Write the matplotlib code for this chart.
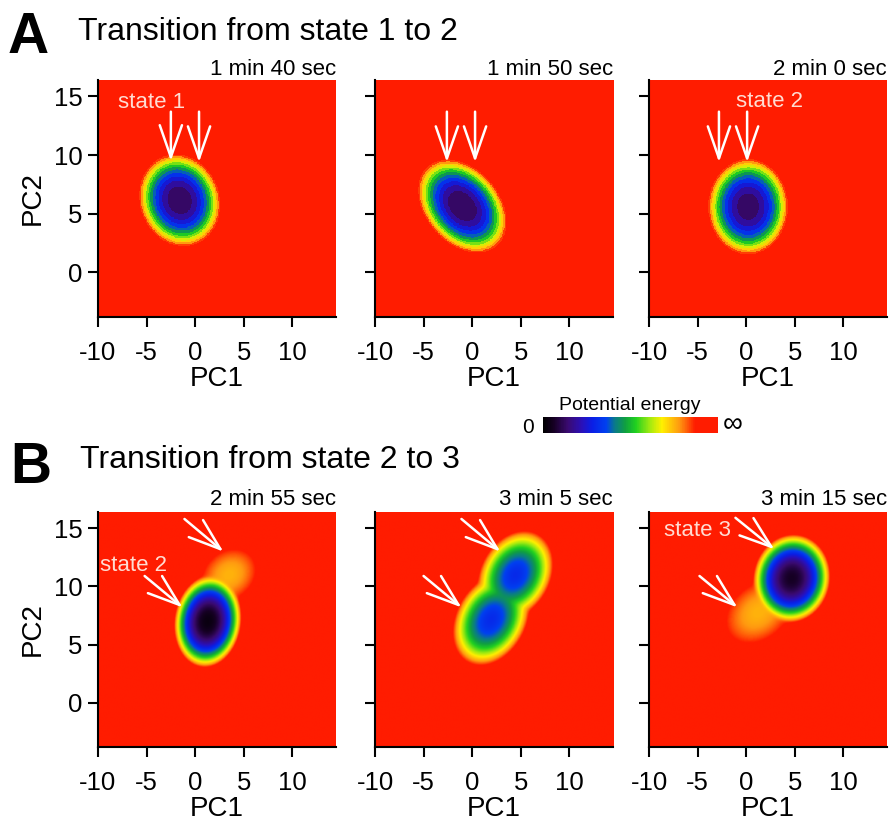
import numpy as np
import matplotlib.pyplot as plt
from matplotlib.colors import LinearSegmentedColormap, Normalize
import matplotlib.cm as cm

plt.rcParams['font.family'] = ['Liberation Sans', 'DejaVu Sans']
plt.rcParams['axes.unicode_minus'] = False

W, H = 891, 832

titles = ["Transition from state 1 to 2", "Transition from state 2 to 3"]
times_a = ["1 min 40 sec", "1 min 50 sec", "2 min 0 sec"]
times_b = ["2 min 55 sec", "3 min 5 sec", "3 min 15 sec"]

xticks = [-10, -5, 0, 5, 10]
yticks = [0, 5, 10, 15]
xlim = (-10, 14.5)
ylim = (-3.8, 16.4)

# wells: (PC1, PC2, semi-axis a, semi-axis b, tilt deg, floor energy, wall exponent)
wells_a = [
    [(-1.6, 6.15, 4.6, 3.95, -70, 0.14, 2.2)],
    [(-1.05, 5.65, 5.2, 3.65, -49, 0.13, 2.2)],
    [(0.2, 5.6, 4.7, 3.95, 90, 0.15, 2.2)],
]
wells_b = [
    [(1.3, 7.0, 4.7, 3.4, 82, 0.03, 2.2), (3.5, 11.0, 2.7, 2.2, 40, 0.75, 2)],
    [(1.9, 7.15, 4.9, 3.5, 62, 0.31, 2), (4.4, 11.0, 4.7, 3.5, 62, 0.31, 2)],
    [(4.7, 10.7, 4.5, 3.9, 80, 0.06, 2.2), (1.3, 7.8, 3.4, 2.5, 40, 0.75, 2)],
]

# arrows: (tail x, tail y, tip x, tip y)
arrows_a = [
    [(-2.5, 13.7, -2.5, 9.5), (0.4, 13.7, 0.4, 9.4)],
    [(-2.6, 13.7, -2.6, 9.4), (0.3, 13.7, 0.3, 9.4)],
    [(-2.8, 13.7, -2.8, 9.4), (0.1, 13.7, 0.1, 9.4)],
]
arrows_b = [
    [(-1.1, 15.8, 2.9, 13.0), (-5.2, 10.9, -1.3, 8.2)],
    [(-1.1, 15.8, 2.9, 13.0), (-5.0, 10.9, -1.1, 8.2)],
    [(-1.1, 15.9, 2.9, 13.2), (-4.8, 10.9, -0.9, 8.2)],
]

# state labels: (panel, x, y, text)
labels_a = [(0, -4.5, 14.0, "state 1"), (2, 2.4, 14.1, "state 2")]
labels_b = [(0, -6.3, 11.3, "state 2"), (2, -5.05, 14.3, "state 3")]

RED = 0.85
TAU = 0.04
ASPECT = 1.2
STEP = 0.065

cmap = LinearSegmentedColormap.from_list("potential", [
    (0.00, '#000000'),
    (0.06, '#160024'),
    (0.14, '#3a0a70'),
    (0.22, '#2a10b8'),
    (0.28, '#0a1ee6'),
    (0.36, '#0040f0'),
    (0.41, '#0a7a8a'),
    (0.47, '#10a040'),
    (0.53, '#20d020'),
    (0.61, '#a0ea10'),
    (0.68, '#fff000'),
    (0.78, '#ff9a10'),
    (0.87, '#ff1c00'),
    (1.00, '#ff1c00'),
])
norm = Normalize(0, 1)

gx = np.linspace(xlim[0], xlim[1], 400)
gy = np.linspace(ylim[0], ylim[1], 400)
X, Y = np.meshgrid(gx, gy)


def well_energy(cx, cy, a, b, ang, floor, n):
    u = X - cx
    v = (Y - cy) * ASPECT
    t = np.deg2rad(ang)
    p = u * np.cos(t) + v * np.sin(t)
    q = -u * np.sin(t) + v * np.cos(t)
    rho = np.sqrt((p / a) ** 2 + (q / b) ** 2)
    return floor + (RED - floor) * rho ** n


def landscape(wells):
    es = np.array([well_energy(*w) for w in wells])
    e = -TAU * np.log(np.sum(np.exp(-es / TAU), axis=0))
    return np.clip(e, 0, 1)


def px(x, y):
    return x / W, 1 - y / H


fig = plt.figure(figsize=(W / 100, H / 100), dpi=100)

col_left = [98, 375, 649]
col_w = 238
rows = [(80, 237), (512, 235)]


def setup(ax, first):
    ax.set_xlim(*xlim)
    ax.set_ylim(*ylim)
    ax.set_xticks(xticks)
    ax.set_yticks(yticks)
    for s in ['top', 'right']:
        ax.spines[s].set_visible(False)
    for s in ['left', 'bottom']:
        ax.spines[s].set_linewidth(1.5)
    ax.tick_params(axis='both', direction='out', length=7, width=1.5, labelsize=18.5)
    ax.tick_params(axis='x', pad=10)
    ax.tick_params(axis='y', pad=4)
    ax.set_xlabel("PC1", fontsize=20, labelpad=1)
    if first:
        ax.set_ylabel("PC2", fontsize=20, labelpad=6)
    else:
        ax.set_yticklabels([])


def draw_arrow(ax, tx, ty, hx, hy):
    ax.annotate('', xy=(hx, hy), xytext=(tx, ty),
                arrowprops=dict(arrowstyle='->,head_length=2.3,head_width=0.8',
                                color='white', lw=1.8, shrinkA=0, shrinkB=0,
                                mutation_scale=10))


for r, (wells_row, times, arrows, labels) in enumerate([
        (wells_a, times_a, arrows_a, labels_a),
        (wells_b, times_b, arrows_b, labels_b)]):
    top, h = rows[r]
    for c in range(3):
        l, b = px(col_left[c], top + h)
        ax = fig.add_axes([l, b, col_w / W, h / H])
        E = landscape(wells_row[c])
        if r == 0:
            # stepped shading for the first row
            E = np.floor(E / STEP) * STEP
            interp = 'nearest'
        else:
            interp = 'bilinear'
        ax.imshow(E, extent=[xlim[0], xlim[1], ylim[0], ylim[1]], origin='lower',
                  cmap=cmap, norm=norm, aspect='auto', interpolation=interp)
        setup(ax, c == 0)
        for arr in arrows[c]:
            draw_arrow(ax, *arr)
        for pi, lx, ly, txt in labels:
            if pi == c:
                ax.text(lx, ly, txt, color='#ffdcd2', fontsize=16,
                        ha='center', va='baseline')
        ax.text(1.0, 1 + (5 if r == 0 else 7) / h, times[c], transform=ax.transAxes,
                ha='right', va='baseline', fontsize=16)

# panel letters and headings
fig.text(*px(8, 53), "A", fontsize=41, fontweight='bold', ha='left', va='baseline')
fig.text(*px(78, 40), titles[0], fontsize=23, ha='left', va='baseline')
fig.text(*px(10, 483), "B", fontsize=41, fontweight='bold', ha='left', va='baseline')
fig.text(*px(80, 468), titles[1], fontsize=23, ha='left', va='baseline')

# colour scale
cl, cb = px(543, 433)
cax = fig.add_axes([cl, cb, 175 / W, 16 / H])
cbar = fig.colorbar(cm.ScalarMappable(norm=norm, cmap=cmap), cax=cax, orientation='horizontal')
cbar.outline.set_visible(False)
cbar.set_ticks([])
fig.text(*px(630, 410), "Potential energy", fontsize=14, ha='center', va='baseline')
fig.text(*px(534, 433), "0", fontsize=15, ha='right', va='baseline')
fig.text(*px(723, 425), "\u221e", fontsize=20, ha='left', va='center')

fig.savefig("out.png", dpi=100)
